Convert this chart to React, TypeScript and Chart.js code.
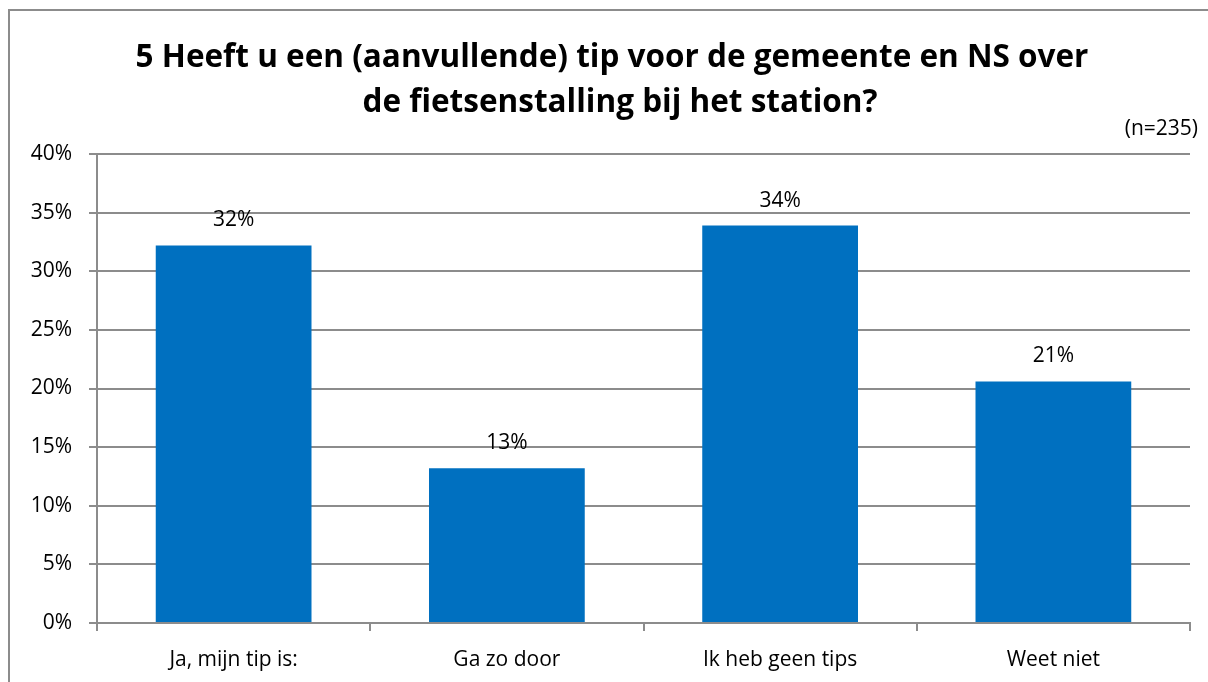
import React, { useEffect, useRef } from "react";
import { Chart, registerables } from "chart.js";

Chart.register(...registerables);

const categories = ["Ja, mijn tip is:", "Ga zo door", "Ik heb geen tips", "Weet niet"];
const values = [32.2, 13.2, 33.9, 20.6];
const titleLines = ["5 Heeft u een (aanvullende) tip voor de gemeente en NS over", "de fietsenstalling bij het station?"];
const sampleNote = "(n=235)";
const yTicks = [0, 5, 10, 15, 20, 25, 30, 35, 40];

const FONT = "'Open Sans', sans-serif";
const GRID = "#8c8c8c";

const decorPlugin = {
  id: "decor",
  beforeDraw(chart: any) {
    const ctx = chart.ctx;
    ctx.save();
    ctx.strokeStyle = GRID;
    ctx.lineWidth = 2;
    ctx.beginPath();
    ctx.moveTo(9, 700);
    ctx.lineTo(9, 10);
    ctx.lineTo(1210, 10);
    ctx.stroke();
    ctx.restore();
  },
  afterDatasetsDraw(chart: any) {
    const ctx = chart.ctx;
    ctx.save();
    ctx.fillStyle = "#000";
    ctx.textAlign = "center";
    ctx.textBaseline = "middle";
    ctx.font = `bold 31.5px ${FONT}`;
    ctx.fillText(titleLines[0], 612, 58);
    ctx.fillText(titleLines[1], 620, 103);
    ctx.font = `21px ${FONT}`;
    const meta = chart.getDatasetMeta(0);
    meta.data.forEach((bar: any, i: number) => {
      ctx.fillText(Math.round(values[i]) + "%", bar.x, bar.y - 25);
    });
    ctx.textAlign = "right";
    ctx.fillText(sampleNote, 1198, 129);
    ctx.restore();
  },
};

export default function App() {
  const ref = useRef<HTMLCanvasElement>(null);
  useEffect(() => {
    const chart = new Chart(ref.current!, {
      type: "bar",
      data: {
        labels: categories,
        datasets: [
          {
            data: values,
            backgroundColor: "#0070C0",
            barPercentage: 0.57,
            categoryPercentage: 1,
          },
        ],
      },
      options: {
        animation: false,
        responsive: false,
        layout: { padding: { top: 154, right: 18, left: 0, bottom: 0 } },
        plugins: {
          legend: { display: false },
          tooltip: { enabled: false },
          title: { display: false },
        },
        scales: {
          x: {
            grid: { offset: true, drawOnChartArea: false, color: GRID, lineWidth: 2, tickLength: 8 },
            border: { color: GRID, width: 2 },
            ticks: { color: "#000", font: { family: FONT, size: 21 }, padding: 16 },
            afterFit: (s: any) => {
              s.height = 59;
            },
          },
          y: {
            min: 0,
            max: 40,
            afterBuildTicks: (s: any) => {
              s.ticks = yTicks.map((v) => ({ value: v }));
            },
            grid: { color: GRID, lineWidth: 2, tickLength: 8 },
            border: { color: GRID, width: 2 },
            ticks: {
              color: "#000",
              font: { family: FONT, size: 21 },
              padding: 17,
              callback: (v: any) => v + "%",
            },
            afterFit: (s: any) => {
              s.width = 97;
            },
          },
        },
      },
      plugins: [decorPlugin],
    });
    return () => chart.destroy();
  }, []);
  return (
    <div style={{ position: "fixed", left: 0, top: 0, width: 1208, height: 682, background: "#fff" }}>
      <canvas ref={ref} width={1208} height={682} style={{ width: 1208, height: 682, display: "block" }} />
    </div>
  );
}
